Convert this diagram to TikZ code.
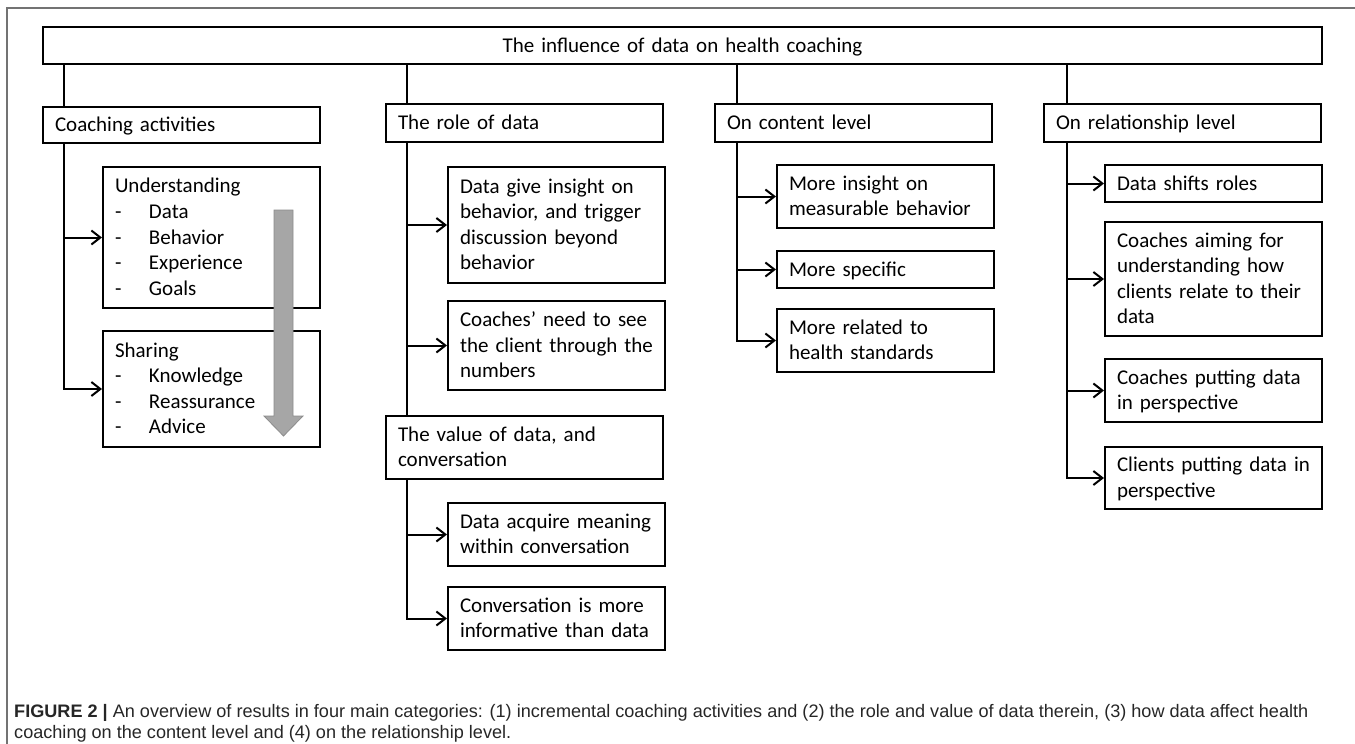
\documentclass[tikz,border=0pt]{standalone}
\usepackage{fontspec}
\setmainfont{Carlito}
\newfontfamily\capfont{Liberation Sans}
\usetikzlibrary{positioning,arrows.meta,calc}
\newcommand{\lstrut}{\rule[-6.3pt]{0pt}{25.6pt}}
\newcommand{\itm}[1]{\\\makebox[34pt][l]{-}#1}
\tikzset{
  hbox/.style  ={draw=black, line width=2pt, anchor=north west, align=left,
                 inner xsep=12pt, inner ysep=0pt, font=\fontsize{21}{25.6}\selectfont,
                 execute at begin node=\lstrut, execute at end node=\lstrut},
  catbox/.style={hbox, text width=253pt, minimum width=277pt, minimum height=#1},
  catbox/.default=37pt,
  subbox/.style={hbox, text width=193pt, minimum width=217pt, minimum height=#1},
  subbox/.default=37pt,
  ln/.style    ={line width=2pt},
  arr/.style   ={-{Straight Barb[length=9pt, width=14pt]}, line width=2pt},
  frame/.style ={draw=black!55, line width=1.4pt},
  bigarr/.style={fill=black!35, draw=black!45, line width=0.8pt},
  capt/.style  ={anchor=north west, align=left, inner sep=0pt, text=black!85,
                 font=\capfont\fontsize{18.1}{21}\selectfont},
}

\begin{document}
\begin{tikzpicture}[x=1pt, y=-1pt]
  \useasboundingbox (0,0) rectangle (1355,744);
  \draw[frame] (7,744) -- (7,8) -- (1355,8);

  % spine x positions
  \coordinate (s1) at (64,0);
  \coordinate (s2) at (407,0);
  \coordinate (s3) at (737,0);
  \coordinate (s4) at (1067,0);

  \node[hbox, align=center, text width=1255pt, minimum height=37pt] (title) at (42,26)
    {The influence of data on health coaching};

  % column 1
  \node[catbox=36pt] (cat1) at (42,106) {Coaching activities};
  \node[subbox=141pt] (und) at (102,166)
    {Understanding\itm{Data}\itm{Behavior}\itm{Experience}\itm{Goals}};
  \node[subbox=116pt] (sha) at (102,330)
    {Sharing\itm{Knowledge}\itm{Reassurance}\itm{Advice}};

  % column 2
  \node[catbox=38pt] (cat2) at (385,103) {The role of data};
  \node[subbox=116pt] (rol1) at (447,166)
    {Data give insight on\\behavior, and trigger\\discussion beyond\\behavior};
  \node[subbox=89pt] (rol2) at (447,300)
    {Coaches’ need to see\\the client through the\\numbers};
  \node[catbox=63pt] (cat2b) at (385,415) {The value of data, and\\conversation};
  \node[subbox=63pt] (val1) at (447,502) {Data acquire meaning\\within conversation};
  \node[subbox=63pt] (val2) at (447,586) {Conversation is more\\informative than data};

  % column 3
  \node[catbox=38pt] (cat3) at (714,103) {On content level};
  \node[subbox=63pt] (con1) at (776,164) {More insight on\\measurable behavior};
  \node[subbox=37pt] (con2) at (776,250) {More specific};
  \node[subbox=63pt] (con3) at (776,308) {More related to\\health standards};

  % column 4
  \node[catbox=38pt] (cat4) at (1043,103) {On relationship level};
  \node[subbox=37pt] (rel1) at (1104,164) {Data shifts roles};
  \node[subbox=114pt] (rel2) at (1104,221)
    {Coaches aiming for\\understanding how\\clients relate to their\\data};
  \node[subbox=63pt] (rel3) at (1104,358) {Coaches putting data\\in perspective};
  \node[subbox=62pt] (rel4) at (1104,446) {Clients putting data in\\perspective};

  % drops from the title
  \draw[ln] (title.south -| s1) -- (cat1.north -| s1);
  \draw[ln] (title.south -| s2) -- (cat2.north -| s2);
  \draw[ln] (title.south -| s3) -- (cat3.north -| s3);
  \draw[ln] (title.south -| s4) -- (cat4.north -| s4);

  % branches
  \draw[arr] (cat1.south -| s1) |- (sha.west);
  \draw[arr] (und.west -| s1) -- (und.west);

  \draw[ln] (cat2.south -| s2) -- (cat2b.north -| s2);
  \draw[arr] (rol1.west -| s2) -- (rol1.west);
  \draw[arr] (rol2.west -| s2) -- (rol2.west);
  \draw[arr] (cat2b.south -| s2) |- (val2.west);
  \draw[arr] (val1.west -| s2) -- (val1.west);

  \draw[arr] (cat3.south -| s3) |- (con3.west);
  \draw[arr] (con1.west -| s3) -- (con1.west);
  \draw[arr] (con2.west -| s3) -- (con2.west);

  \draw[arr] (cat4.south -| s4) |- (rel4.west);
  \draw[arr] (rel1.west -| s4) -- (rel1.west);
  \draw[arr] (rel2.west -| s4) -- (rel2.west);
  \draw[arr] (rel3.west -| s4) -- (rel3.west);

  % incremental arrow
  \filldraw[bigarr] (274,210) -- (293,210) -- (293,416) -- (303,416) -- (283.5,436)
    -- (264,416) -- (274,416) -- cycle;

  \node[capt] (cap) at (14,704)
    {\textbf{FIGURE 2 |} An overview of results in four main categories: (1) incremental coaching activities and (2) the role and value of data therein, (3) how data affect health\\
     coaching on the content level and (4) on the relationship level.};
\end{tikzpicture}
\end{document}
